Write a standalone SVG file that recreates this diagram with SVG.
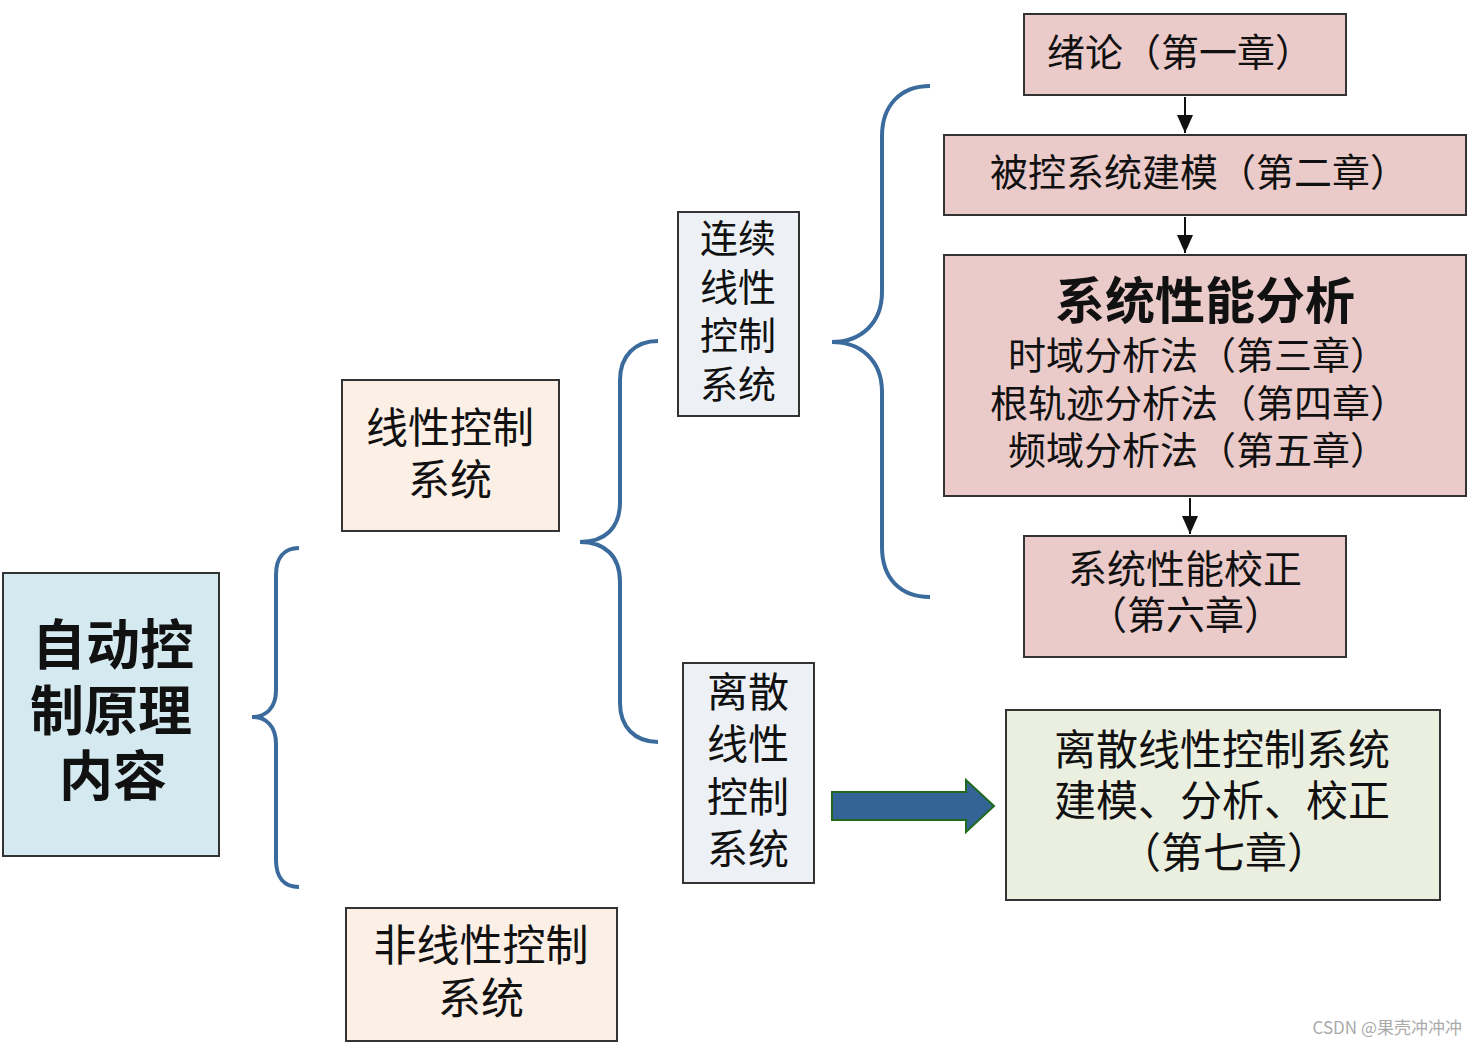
<svg xmlns="http://www.w3.org/2000/svg" width="1477" height="1047" viewBox="0 0 1477 1047">
<style>
text{font-family:"Noto Sans CJK SC","Noto Sans CJK JP",sans-serif;fill:#111;text-anchor:middle;font-feature-settings:"halt" 0,"chws" 0,"palt" 0}
text.s{text-anchor:start}
.box{stroke:#333;stroke-width:2}
.blue{fill:#d4eaf0}
.peach{fill:#fcefe5}
.gray{fill:#edf1f6}
.pink{fill:#ebcbca}
.green{fill:#ebefe0}
.brace{fill:none;stroke:#3b6b9d;stroke-width:4}
.arr{stroke:#111;stroke-width:2;fill:none}
</style>
<defs>
<marker id="ahb" viewBox="0 0 18 16" refX="18" refY="8" markerWidth="18" markerHeight="16" markerUnits="userSpaceOnUse" orient="auto">
<path d="M0,0 L18,8 L0,16 Z" fill="#111"/>
</marker>
</defs>
<rect width="1477" height="1047" fill="#fff"/>

<g id="root">
<rect class="box blue" x="3" y="573" width="216" height="283"/>
<text font-size="54" font-weight="bold"><tspan x="113" y="665">自动控</tspan><tspan x="111" y="731">制原理</tspan><tspan x="113" y="796">内容</tspan></text>
</g>

<g id="linear">
<rect class="box peach" x="342" y="380" width="217" height="151"/>
<text font-size="42"><tspan x="450" y="443">线性控制</tspan><tspan x="450" y="495">系统</tspan></text>
</g>

<g id="nonlinear">
<rect class="box peach" x="346" y="908" width="271" height="133"/>
<text font-size="43"><tspan x="481" y="961">非线性控制</tspan><tspan x="481" y="1014">系统</tspan></text>
</g>

<g id="continuous">
<rect class="box gray" x="678" y="212" width="121" height="204"/>
<text font-size="38"><tspan x="738" y="252">连续</tspan><tspan x="738" y="301">线性</tspan><tspan x="738" y="349">控制</tspan><tspan x="738" y="398">系统</tspan></text>
</g>

<g id="discrete">
<rect class="box gray" x="683" y="663" width="131" height="220"/>
<text font-size="41"><tspan x="748" y="707">离散</tspan><tspan x="748" y="759">线性</tspan><tspan x="748" y="812">控制</tspan><tspan x="748" y="864">系统</tspan></text>
</g>

<g id="ch1">
<rect class="box pink" x="1024" y="14" width="322" height="81"/>
<text class="s" font-size="38" x="1047 1085 1123 1161 1199 1237 1275" y="66">绪论（第一章）</text>
</g>

<g id="ch2">
<rect class="box pink" x="944" y="135" width="522" height="80"/>
<text class="s" font-size="38" x="990 1028 1066 1104 1142 1180 1218 1256 1294 1332 1370" y="186">被控系统建模（第二章）</text>
</g>

<g id="ch345">
<rect class="box pink" x="944" y="255" width="522" height="241"/>
<text font-size="50" font-weight="bold" x="1205" y="319">系统性能分析</text>
<text class="s" font-size="38" x="1008 1046 1084 1122 1160 1198 1236 1274 1312 1350" y="369">时域分析法（第三章）</text>
<text class="s" font-size="38" x="990 1028 1066 1104 1142 1180 1218 1256 1294 1332 1370" y="417">根轨迹分析法（第四章）</text>
<text class="s" font-size="38" x="1008 1046 1084 1122 1160 1198 1236 1274 1312 1350" y="464">频域分析法（第五章）</text>
</g>

<g id="ch6">
<rect class="box pink" x="1024" y="536" width="322" height="121"/>
<text font-size="39" x="1185" y="583">系统性能校正</text>
<text class="s" font-size="39" x="1088 1127 1166 1205 1244" y="629">（第六章）</text>
</g>

<g id="ch7">
<rect class="box green" x="1006" y="710" width="434" height="190"/>
<text font-size="42"><tspan x="1222" y="765">离散线性控制系统</tspan><tspan x="1222" y="816">建模、分析、校正</tspan></text>
<text class="s" font-size="42" x="1119 1161 1203 1245 1287" y="868">（第七章）</text>
</g>

<g id="connectors">
<path class="brace" d="M299,548 C284,548 276,558 276,575 L276,690 C276,708 266,717 252,717 C266,717 276,726 276,744 L276,860 C276,877 284,887 299,887"/>
<path class="brace" d="M658,341 C635,341 620,356 620,380 L620,502 C620,528 605,542 580,542 C605,542 620,556 620,582 L620,703 C620,727 635,742 658,742"/>
<path class="brace" d="M930,86 C900,86 882,106 882,136 L882,292 C882,324 860,342 832,342 C860,342 882,360 882,392 L882,547 C882,578 900,597 930,597"/>
<line class="arr" x1="1185" y1="97" x2="1185" y2="133" marker-end="url(#ahb)"/>
<line class="arr" x1="1185" y1="217" x2="1185" y2="253" marker-end="url(#ahb)"/>
<line class="arr" x1="1190" y1="498" x2="1190" y2="534" marker-end="url(#ahb)"/>
<path d="M832,792 L966,792 L966,780 L994,806 L966,832 L966,820 L832,820 Z" fill="#336495" stroke="#1f6a1f" stroke-width="2"/>
</g>

<text font-size="17" x="1462" y="1034" style="fill:#aaa;text-anchor:end">CSDN @果壳冲冲冲</text>
</svg>
